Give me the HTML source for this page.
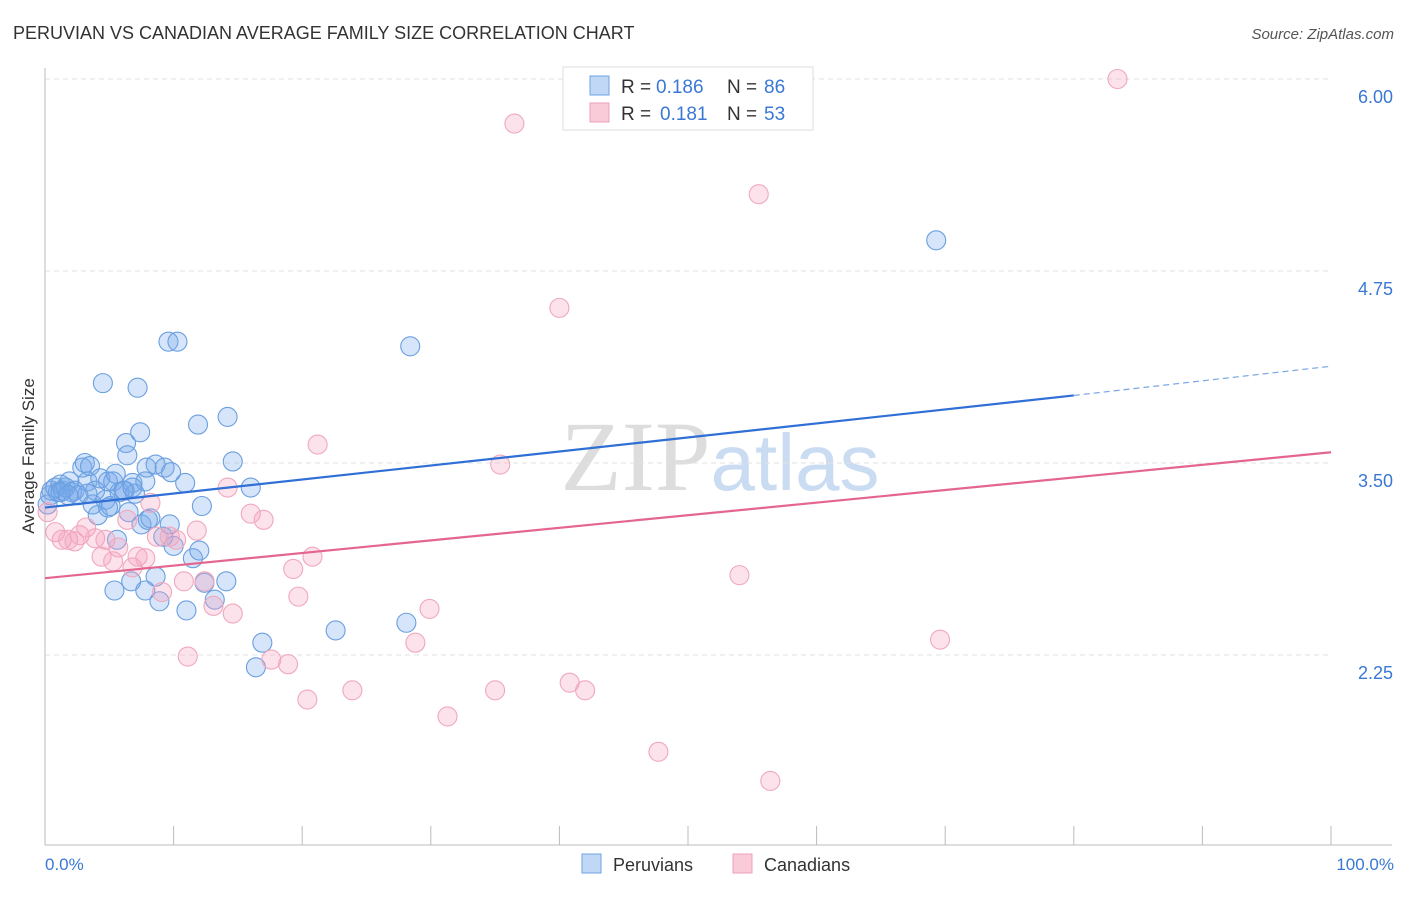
<!DOCTYPE html>
<html><head><meta charset="utf-8"><style>
body{margin:0;background:#fff;font-family:"Liberation Sans",sans-serif}
svg text{font-family:"Liberation Sans",sans-serif}
</style></head><body>
<svg id="chart" width="1406" height="892" xmlns="http://www.w3.org/2000/svg">
<text x="13" y="39" font-size="18" fill="#333">PERUVIAN VS CANADIAN AVERAGE FAMILY SIZE CORRELATION CHART</text>
<text x="1394" y="39" font-size="15" fill="#555" font-style="italic" text-anchor="end">Source: ZipAtlas.com</text>
<text x="720" y="490" font-size="100" text-anchor="middle"><tspan fill="#ddd" font-family="Liberation Serif">ZIP</tspan><tspan fill="#c9dcf2" font-size="80">atlas</tspan></text>
<g id="grid"></g>
<line x1="45" y1="68" x2="45" y2="845" stroke="#bbb"/>
<line x1="45" y1="845" x2="1392" y2="845" stroke="#bbb"/>
<g id="xticks"></g>
<text transform="translate(34,456) rotate(-90)" font-size="17" fill="#333" text-anchor="middle">Average Family Size</text>
<text x="45" y="870" font-size="17" fill="#3a78d4">0.0%</text>
<text x="1394" y="870" font-size="17" fill="#3a78d4" text-anchor="end">100.0%</text>
<g id="points"></g>
<g id="trends"></g>
<g>
<rect x="563" y="67" width="250" height="63" fill="#fff" stroke="#ddd"/>
<rect x="590" y="76" width="19" height="19" fill="#c0d7f5" stroke="#6ea3e3"/>
<rect x="590" y="103" width="19" height="19" fill="#f9cad8" stroke="#eea0b8"/>
<text x="621" y="93" font-size="19" fill="#333">R =</text>
<text x="656" y="93" font-size="19" fill="#3a78d4">0.186</text>
<text x="727" y="93" font-size="19" fill="#333">N =</text>
<text x="764" y="93" font-size="19" fill="#3a78d4">86</text>
<text x="621" y="120" font-size="19" fill="#333">R =</text>
<text x="660" y="120" font-size="19" fill="#3a78d4">0.181</text>
<text x="727" y="120" font-size="19" fill="#333">N =</text>
<text x="764" y="120" font-size="19" fill="#3a78d4">53</text>
</g>
<g>
<rect x="582" y="854" width="19" height="19" fill="#c0d7f5" stroke="#6ea3e3"/>
<text x="613" y="871" font-size="18" fill="#333">Peruvians</text>
<rect x="733" y="854" width="19" height="19" fill="#f9cad8" stroke="#eea0b8"/>
<text x="764" y="871" font-size="18" fill="#333">Canadians</text>
</g>
</svg>
<script>
const yTicks=[6.00,4.75,3.50,2.25];
const yTickLabels=["6.00","4.75","3.50","2.25"];
const xTickPcts=[0,10,20,30,40,50,60,70,80,90,100];
const peruX=[0.2,0.4,0.5,0.8,1.0,1.2,1.4,1.6,1.9,2.1,2.3,2.6,2.9,3.1,3.3,3.5,3.7,3.9,4.1,4.3,4.5,4.7,4.9,5.1,5.3,5.5,5.6,5.4,5.8,6.2,6.3,6.4,6.5,6.7,6.8,7.0,7.2,7.4,7.5,7.8,7.8,7.9,8.0,8.2,8.6,8.6,8.9,9.2,9.3,9.6,9.7,9.8,10.0,10.3,10.9,11.0,11.5,11.9,12.0,12.2,12.4,13.2,14.1,14.2,14.6,16.0,16.4,16.9,22.6,28.1,28.4,69.3,1.2,1.8,3.3,6.1,4.9,6.8];
const peruY=[3.23,3.29,3.32,3.34,3.31,3.36,3.32,3.34,3.38,3.31,3.32,3.29,3.47,3.50,3.38,3.48,3.23,3.32,3.16,3.40,4.02,3.26,3.38,3.22,3.38,3.43,3.00,2.67,3.31,3.32,3.63,3.55,3.18,2.73,3.37,3.30,3.99,3.70,3.10,3.38,2.67,3.47,3.13,3.14,3.49,2.76,2.60,3.02,3.47,4.29,3.10,3.44,2.96,4.29,3.37,2.54,2.88,3.75,2.93,3.22,2.72,2.61,2.73,3.80,3.51,3.34,2.17,2.33,2.41,2.46,4.26,4.95,3.31,3.29,3.30,3.32,3.21,3.34];
const canX=[0.2,0.8,1.3,1.8,2.3,2.7,3.2,3.9,4.4,4.7,5.3,5.7,6.4,6.8,7.2,7.8,8.2,8.7,9.1,9.7,10.2,10.8,11.1,11.8,12.4,13.1,14.2,14.6,16.0,17.0,17.6,18.9,19.3,19.7,20.4,20.8,21.2,23.9,28.8,29.9,31.3,35.0,35.4,36.5,40.0,40.8,42.0,47.7,54.0,55.5,56.4,69.6,83.4];
const canY=[3.18,3.05,3.00,3.00,2.99,3.03,3.08,3.01,2.89,3.00,2.86,2.95,3.13,2.82,2.89,2.88,3.24,3.02,2.66,3.02,3.00,2.73,2.24,3.06,2.73,2.57,3.34,2.52,3.17,3.13,2.22,2.19,2.81,2.63,1.96,2.89,3.62,2.02,2.33,2.55,1.85,2.02,3.49,5.71,4.51,2.07,2.02,1.62,2.77,5.25,1.43,2.35,6.00];
const peruTrend=[3.21,3.94,4.13];
const canTrend=[2.75,3.57];
const X=p=>45+p*12.86, Y=v=>79+(6-v)*153.6;
const NS="http://www.w3.org/2000/svg";
function mk(t,a,parent){const e=document.createElementNS(NS,t);for(const k in a)e.setAttribute(k,a[k]);document.getElementById(parent).appendChild(e);return e;}
yTicks.forEach((v,i)=>{
 const l=mk('line',{x1:45,x2:1331,y1:Y(v),y2:Y(v),stroke:'#e2e2e2','stroke-dasharray':'5,4'},'grid');
 
 
 const t=mk('text',{x:1393,y:Y(v)+24,'font-size':18,fill:'#3a78d4','text-anchor':'end'},'grid');t.textContent=yTickLabels[i];
 
 
});
xTickPcts.forEach(p=>{
 const l=mk('line',{x1:X(p),x2:X(p),y1:826,y2:845,stroke:'#bbb'},'xticks');
 
 
});
peruX.forEach((x,i)=>{
 const c=mk('circle',{cx:X(x),cy:Y(peruY[i]),r:9.5,fill:'rgba(120,170,235,0.3)',stroke:'#6a9fe0','stroke-width':1.1},'points');
 
 
});
canX.forEach((x,i)=>{
 const c=mk('circle',{cx:X(x),cy:Y(canY[i]),r:9.5,fill:'rgba(245,160,190,0.3)',stroke:'#f0a8be','stroke-width':1.1},'points');
 
 
});
let t1=mk('line',{x1:X(0),y1:Y(peruTrend[0]),x2:X(80),y2:Y(peruTrend[1]),stroke:'#2f6fd6','stroke-width':2.2},'trends');


let t2=mk('line',{x1:X(80),y1:Y(peruTrend[1]),x2:X(100),y2:Y(peruTrend[2]),stroke:'#7aa6e3','stroke-width':1.2,'stroke-dasharray':'6,4'},'trends');


let t3=mk('line',{x1:X(0),y1:Y(canTrend[0]),x2:X(100),y2:Y(canTrend[1]),stroke:'#e4668f','stroke-width':2.2},'trends');


</script>
</body></html>
